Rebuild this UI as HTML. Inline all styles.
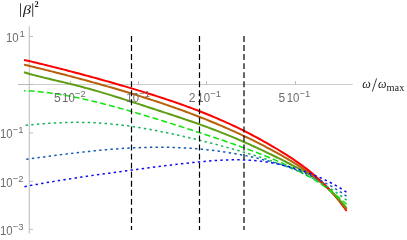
<!DOCTYPE html>
<html><head><meta charset="utf-8">
<style>
html,body{margin:0;padding:0;background:#fff;}
body{width:407px;height:240px;overflow:hidden;font-family:"Liberation Sans",sans-serif;}
svg{display:block;will-change:transform}
.t{font-family:"Liberation Sans",sans-serif;font-size:12px;fill:#6c6c6c}
.s{font-family:"Liberation Sans",sans-serif;font-size:9.7px;fill:#6c6c6c}
.m{font-family:"Liberation Serif",serif;fill:#1a1a1a}
</style></head><body>
<svg width="407" height="240" viewBox="0 0 407 240">
<rect width="407" height="240" fill="#fff"/>
<!-- axes -->
<g stroke="#b4b4b4" stroke-width="0.9" fill="none">
<line x1="29.35" y1="26.2" x2="29.35" y2="233.5" stroke-width="1.3" stroke="#cacaca"/>
<line x1="18" y1="84.5" x2="352.7" y2="84.5" stroke="#cdcdcd" stroke-width="1"/>
<line x1="18" y1="84.5" x2="33" y2="84.5" stroke="#b8b8b8" stroke-width="1"/>
<line x1="29.5" y1="36.4" x2="33" y2="36.4"/>
<line x1="29.5" y1="132.9" x2="33" y2="132.9"/>
<line x1="29.5" y1="181.4" x2="33" y2="181.4"/>
<line x1="29.5" y1="229.4" x2="33" y2="229.4"/>
<line x1="70.5" y1="84.5" x2="70.5" y2="81"/>
<line x1="138.5" y1="84.5" x2="138.5" y2="81"/>
<line x1="206.5" y1="84.5" x2="206.5" y2="81"/>
<line x1="295.5" y1="84.5" x2="295.5" y2="81"/>
</g>
<!-- curves -->
<g fill="none">
<path d="M24.00,72.26 L26.50,73.01 L29.00,73.73 L31.50,74.42 L34.00,75.10 L36.50,75.75 L39.00,76.39 L41.51,77.02 L44.01,77.63 L46.51,78.24 L49.01,78.84 L51.51,79.43 L54.01,80.02 L56.51,80.61 L59.01,81.20 L61.51,81.80 L64.01,82.39 L66.51,82.99 L69.01,83.60 L71.51,84.22 L74.02,84.84 L76.52,85.47 L79.02,86.11 L81.52,86.76 L84.02,87.42 L86.52,88.10 L89.02,88.78 L91.52,89.47 L94.02,90.18 L96.52,90.90 L99.02,91.62 L101.52,92.36 L104.02,93.11 L106.53,93.86 L109.03,94.63 L111.53,95.40 L114.03,96.17 L116.53,96.96 L119.03,97.75 L121.53,98.54 L124.03,99.34 L126.53,100.14 L129.03,100.94 L131.53,101.75 L134.03,102.55 L136.53,103.36 L139.04,104.17 L141.54,104.99 L144.04,105.80 L146.54,106.61 L149.04,107.43 L151.54,108.25 L154.04,109.06 L156.54,109.88 L159.04,110.70 L161.54,111.52 L164.04,112.34 L166.54,113.16 L169.04,113.99 L171.55,114.81 L174.05,115.64 L176.55,116.47 L179.05,117.31 L181.55,118.15 L184.05,118.99 L186.55,119.84 L189.05,120.69 L191.55,121.55 L194.05,122.42 L196.55,123.30 L199.05,124.18 L201.56,125.08 L204.06,125.98 L206.56,126.89 L209.06,127.82 L211.56,128.75 L214.06,129.70 L216.56,130.65 L219.06,131.62 L221.56,132.60 L224.06,133.59 L226.56,134.60 L229.06,135.61 L231.56,136.64 L234.07,137.68 L236.57,138.74 L239.07,139.81 L241.57,140.89 L244.07,141.98 L246.57,143.08 L249.07,144.20 L251.57,145.33 L254.07,146.47 L256.57,147.63 L259.07,148.79 L261.57,149.97 L264.07,151.15 L266.58,152.35 L269.08,153.56 L271.58,154.77 L274.08,156.00 L276.58,157.23 L279.08,158.47 L281.58,159.72 L284.08,160.98 L286.58,162.24 L289.08,163.50 L291.58,164.78 L294.08,166.05 L296.58,167.35 L299.09,168.65 L301.59,169.99 L304.09,171.35 L306.59,172.77 L309.09,174.24 L311.59,175.78 L314.09,177.41 L316.59,179.13 L319.09,180.95 L321.59,182.88 L324.09,184.92 L326.59,187.07 L329.09,189.34 L330.00,190.20" stroke="#5f9e14" stroke-width="2.0"/>
<path d="M24.00,64.63 L26.50,65.23 L29.00,65.83 L31.50,66.44 L34.00,67.05 L36.50,67.66 L39.00,68.27 L41.51,68.89 L44.01,69.51 L46.51,70.14 L49.01,70.76 L51.51,71.39 L54.01,72.03 L56.51,72.66 L59.01,73.30 L61.51,73.94 L64.01,74.59 L66.51,75.24 L69.01,75.89 L71.51,76.55 L74.02,77.21 L76.52,77.87 L79.02,78.54 L81.52,79.21 L84.02,79.89 L86.52,80.57 L89.02,81.25 L91.52,81.93 L94.02,82.62 L96.52,83.32 L99.02,84.02 L101.52,84.72 L104.02,85.43 L106.53,86.14 L109.03,86.86 L111.53,87.58 L114.03,88.30 L116.53,89.04 L119.03,89.77 L121.53,90.51 L124.03,91.26 L126.53,92.01 L129.03,92.77 L131.53,93.53 L134.03,94.30 L136.53,95.07 L139.04,95.85 L141.54,96.64 L144.04,97.43 L146.54,98.23 L149.04,99.03 L151.54,99.84 L154.04,100.66 L156.54,101.49 L159.04,102.32 L161.54,103.16 L164.04,104.01 L166.54,104.86 L169.04,105.72 L171.55,106.59 L174.05,107.47 L176.55,108.35 L179.05,109.25 L181.55,110.15 L184.05,111.06 L186.55,111.98 L189.05,112.91 L191.55,113.85 L194.05,114.80 L196.55,115.76 L199.05,116.73 L201.56,117.70 L204.06,118.69 L206.56,119.69 L209.06,120.70 L211.56,121.72 L214.06,122.75 L216.56,123.79 L219.06,124.85 L221.56,125.91 L224.06,126.99 L226.56,128.08 L229.06,129.18 L231.56,130.29 L234.07,131.42 L236.57,132.55 L239.07,133.71 L241.57,134.87 L244.07,136.05 L246.57,137.24 L249.07,138.44 L251.57,139.66 L254.07,140.90 L256.57,142.14 L259.07,143.41 L261.57,144.68 L264.07,145.97 L266.58,147.28 L269.08,148.60 L271.58,149.94 L274.08,151.30 L276.58,152.67 L279.08,154.06 L281.58,155.47 L284.08,156.90 L286.58,158.35 L289.08,159.83 L291.58,161.34 L294.08,162.87 L296.58,164.44 L299.09,166.04 L301.59,167.69 L304.09,169.37 L306.59,171.10 L309.09,172.89 L311.59,174.72 L314.09,176.62 L316.59,178.58 L319.09,180.61 L321.59,182.71 L324.09,184.90 L326.59,187.16 L329.09,189.53 L330.00,190.42" stroke="#b8600a" stroke-width="2.0"/>
<path d="M24.00,59.94 L26.50,60.50 L29.00,61.07 L31.50,61.65 L34.00,62.23 L36.50,62.82 L39.00,63.42 L41.51,64.02 L44.01,64.63 L46.51,65.24 L49.01,65.85 L51.51,66.47 L54.01,67.10 L56.51,67.73 L59.01,68.36 L61.51,69.00 L64.01,69.65 L66.51,70.29 L69.01,70.94 L71.51,71.60 L74.02,72.26 L76.52,72.92 L79.02,73.58 L81.52,74.25 L84.02,74.92 L86.52,75.60 L89.02,76.28 L91.52,76.96 L94.02,77.65 L96.52,78.33 L99.02,79.03 L101.52,79.72 L104.02,80.42 L106.53,81.12 L109.03,81.83 L111.53,82.54 L114.03,83.25 L116.53,83.97 L119.03,84.69 L121.53,85.42 L124.03,86.15 L126.53,86.88 L129.03,87.62 L131.53,88.36 L134.03,89.11 L136.53,89.86 L139.04,90.62 L141.54,91.38 L144.04,92.15 L146.54,92.93 L149.04,93.71 L151.54,94.49 L154.04,95.28 L156.54,96.08 L159.04,96.89 L161.54,97.70 L164.04,98.53 L166.54,99.36 L169.04,100.19 L171.55,101.04 L174.05,101.89 L176.55,102.76 L179.05,103.63 L181.55,104.52 L184.05,105.41 L186.55,106.32 L189.05,107.23 L191.55,108.16 L194.05,109.10 L196.55,110.05 L199.05,111.02 L201.56,111.99 L204.06,112.98 L206.56,113.99 L209.06,115.01 L211.56,116.04 L214.06,117.09 L216.56,118.15 L219.06,119.23 L221.56,120.32 L224.06,121.43 L226.56,122.56 L229.06,123.70 L231.56,124.86 L234.07,126.03 L236.57,127.22 L239.07,128.43 L241.57,129.66 L244.07,130.90 L246.57,132.17 L249.07,133.45 L251.57,134.75 L254.07,136.06 L256.57,137.40 L259.07,138.75 L261.57,140.12 L264.07,141.51 L266.58,142.92 L269.08,144.35 L271.58,145.80 L274.08,147.27 L276.58,148.75 L279.08,150.26 L281.58,151.80 L284.08,153.35 L286.58,154.94 L289.08,156.55 L291.58,158.20 L294.08,159.88 L296.58,161.59 L299.09,163.35 L301.59,165.15 L304.09,167.00 L306.59,168.91 L309.09,170.87 L311.59,172.90 L314.09,174.99 L316.59,177.16 L319.09,179.40 L321.59,181.73 L324.09,184.15 L326.59,186.67 L329.09,189.28 L330.00,190.27" stroke="#ff0000" stroke-width="2.0"/>
<path d="M329.70,189.94 L331.60,192.00 L334.10,194.84 L336.60,197.80 L339.10,200.89 L341.60,204.11 L344.10,207.47 L346.60,210.98" stroke="#ff0000" stroke-width="2.0"/>
<path d="M329.70,190.12 L331.60,191.98 L334.10,194.55 L336.60,197.22 L339.10,200.01 L341.60,202.93 L344.10,205.98 L346.60,209.17" stroke="#b8600a" stroke-width="2.0"/>
<path d="M329.70,189.91 L331.60,191.72 L334.10,194.21 L336.60,196.80 L339.10,199.49 L341.60,202.28 L344.10,205.14 L346.60,208.07" stroke="#5f9e14" stroke-width="2.0"/>
<path d="M24.00,90.68 L26.50,90.79 L29.00,90.92 L31.50,91.08 L34.00,91.26 L36.50,91.47 L39.00,91.70 L41.51,91.95 L44.01,92.22 L46.51,92.52 L49.01,92.84 L51.51,93.18 L54.01,93.53 L56.51,93.91 L59.01,94.30 L61.51,94.72 L64.01,95.15 L66.51,95.59 L69.01,96.05 L71.51,96.53 L74.02,97.03 L76.52,97.53 L79.02,98.06 L81.52,98.59 L84.02,99.14 L86.52,99.70 L89.02,100.27 L91.52,100.86 L94.02,101.46 L96.52,102.06 L99.02,102.68 L101.52,103.31 L104.02,103.95 L106.53,104.59 L109.03,105.25 L111.53,105.91 L114.03,106.59 L116.53,107.27 L119.03,107.95 L121.53,108.65 L124.03,109.35 L126.53,110.06 L129.03,110.77 L131.53,111.49 L134.03,112.22 L136.53,112.95 L139.04,113.69 L141.54,114.43 L144.04,115.18 L146.54,115.93 L149.04,116.69 L151.54,117.45 L154.04,118.21 L156.54,118.98 L159.04,119.75 L161.54,120.52 L164.04,121.30 L166.54,122.08 L169.04,122.87 L171.55,123.65 L174.05,124.44 L176.55,125.24 L179.05,126.03 L181.55,126.83 L184.05,127.63 L186.55,128.43 L189.05,129.24 L191.55,130.05 L194.05,130.86 L196.55,131.67 L199.05,132.49 L201.56,133.31 L204.06,134.13 L206.56,134.95 L209.06,135.78 L211.56,136.61 L214.06,137.45 L216.56,138.28 L219.06,139.13 L221.56,139.97 L224.06,140.82 L226.56,141.68 L229.06,142.54 L231.56,143.41 L234.07,144.28 L236.57,145.16 L239.07,146.05 L241.57,146.94 L244.07,147.84 L246.57,148.76 L249.07,149.68 L251.57,150.61 L254.07,151.55 L256.57,152.50 L259.07,153.46 L261.57,154.44 L264.07,155.43 L266.58,156.43 L269.08,157.45 L271.58,158.48 L274.08,159.53 L276.58,160.60 L279.08,161.69 L281.58,162.79 L284.08,163.92 L286.58,165.07 L289.08,166.24 L291.58,167.44 L294.08,168.67 L296.58,169.92 L299.09,171.21 L301.59,172.53 L304.09,173.88 L306.59,175.26 L309.09,176.69 L311.59,178.16 L314.09,179.67 L316.59,181.22 L319.09,182.82 L321.59,184.47 L324.09,186.18 L326.59,187.94 L329.09,189.76 L331.60,191.64 L334.10,193.58 L336.60,195.59 L339.10,197.68 L341.60,199.83 L344.10,202.06 L346.60,204.37" stroke="#10e510" stroke-width="1.5" stroke-dasharray="6.05 3.03" stroke-dashoffset="4.45"/>
<path d="M24.00,125.51 L26.50,125.24 L29.00,124.99 L31.50,124.74 L34.00,124.51 L36.50,124.28 L39.00,124.06 L41.51,123.85 L44.01,123.66 L46.51,123.47 L49.01,123.30 L51.51,123.14 L54.01,123.00 L56.51,122.87 L59.01,122.75 L61.51,122.65 L64.01,122.56 L66.51,122.48 L69.01,122.43 L71.51,122.39 L74.02,122.36 L76.52,122.35 L79.02,122.36 L81.52,122.39 L84.02,122.43 L86.52,122.49 L89.02,122.57 L91.52,122.66 L94.02,122.77 L96.52,122.90 L99.02,123.04 L101.52,123.21 L104.02,123.39 L106.53,123.58 L109.03,123.80 L111.53,124.02 L114.03,124.27 L116.53,124.53 L119.03,124.81 L121.53,125.11 L124.03,125.42 L126.53,125.74 L129.03,126.08 L131.53,126.43 L134.03,126.80 L136.53,127.18 L139.04,127.57 L141.54,127.98 L144.04,128.40 L146.54,128.83 L149.04,129.27 L151.54,129.72 L154.04,130.19 L156.54,130.66 L159.04,131.15 L161.54,131.64 L164.04,132.14 L166.54,132.66 L169.04,133.18 L171.55,133.71 L174.05,134.25 L176.55,134.80 L179.05,135.35 L181.55,135.92 L184.05,136.49 L186.55,137.07 L189.05,137.65 L191.55,138.25 L194.05,138.85 L196.55,139.45 L199.05,140.07 L201.56,140.69 L204.06,141.32 L206.56,141.95 L209.06,142.59 L211.56,143.24 L214.06,143.90 L216.56,144.56 L219.06,145.22 L221.56,145.90 L224.06,146.58 L226.56,147.26 L229.06,147.96 L231.56,148.66 L234.07,149.36 L236.57,150.08 L239.07,150.80 L241.57,151.53 L244.07,152.26 L246.57,153.01 L249.07,153.76 L251.57,154.52 L254.07,155.29 L256.57,156.08 L259.07,156.87 L261.57,157.67 L264.07,158.49 L266.58,159.32 L269.08,160.16 L271.58,161.02 L274.08,161.89 L276.58,162.78 L279.08,163.69 L281.58,164.62 L284.08,165.56 L286.58,166.53 L289.08,167.52 L291.58,168.54 L294.08,169.58 L296.58,170.65 L299.09,171.74 L301.59,172.86 L304.09,174.02 L306.59,175.21 L309.09,176.43 L311.59,177.69 L314.09,178.98 L316.59,180.32 L319.09,181.70 L321.59,183.12 L324.09,184.59 L326.59,186.10 L329.09,187.67 L331.60,189.28 L334.10,190.95 L336.60,192.68 L339.10,194.46 L341.60,196.31 L344.10,198.22 L346.60,200.19" stroke="#14b45a" stroke-width="1.5" stroke-dasharray="2.4 3.25" stroke-dashoffset="4.0"/>
<path d="M24.00,159.53 L26.50,159.20 L29.00,158.87 L31.50,158.55 L34.00,158.22 L36.50,157.89 L39.00,157.55 L41.51,157.22 L44.01,156.89 L46.51,156.56 L49.01,156.24 L51.51,155.91 L54.01,155.58 L56.51,155.26 L59.01,154.94 L61.51,154.62 L64.01,154.31 L66.51,153.99 L69.01,153.68 L71.51,153.38 L74.02,153.08 L76.52,152.78 L79.02,152.49 L81.52,152.21 L84.02,151.92 L86.52,151.65 L89.02,151.38 L91.52,151.12 L94.02,150.86 L96.52,150.61 L99.02,150.37 L101.52,150.13 L104.02,149.90 L106.53,149.68 L109.03,149.47 L111.53,149.26 L114.03,149.07 L116.53,148.88 L119.03,148.70 L121.53,148.53 L124.03,148.37 L126.53,148.22 L129.03,148.08 L131.53,147.95 L134.03,147.83 L136.53,147.72 L139.04,147.63 L141.54,147.54 L144.04,147.46 L146.54,147.40 L149.04,147.34 L151.54,147.30 L154.04,147.27 L156.54,147.25 L159.04,147.24 L161.54,147.25 L164.04,147.27 L166.54,147.30 L169.04,147.35 L171.55,147.40 L174.05,147.48 L176.55,147.56 L179.05,147.66 L181.55,147.77 L184.05,147.89 L186.55,148.03 L189.05,148.19 L191.55,148.36 L194.05,148.54 L196.55,148.74 L199.05,148.95 L201.56,149.17 L204.06,149.41 L206.56,149.67 L209.06,149.94 L211.56,150.23 L214.06,150.53 L216.56,150.85 L219.06,151.18 L221.56,151.53 L224.06,151.89 L226.56,152.27 L229.06,152.67 L231.56,153.08 L234.07,153.51 L236.57,153.95 L239.07,154.41 L241.57,154.89 L244.07,155.38 L246.57,155.89 L249.07,156.42 L251.57,156.96 L254.07,157.52 L256.57,158.09 L259.07,158.68 L261.57,159.29 L264.07,159.92 L266.58,160.57 L269.08,161.23 L271.58,161.92 L274.08,162.62 L276.58,163.34 L279.08,164.09 L281.58,164.86 L284.08,165.64 L286.58,166.46 L289.08,167.30 L291.58,168.16 L294.08,169.05 L296.58,169.96 L299.09,170.91 L301.59,171.89 L304.09,172.89 L306.59,173.93 L309.09,175.00 L311.59,176.11 L314.09,177.26 L316.59,178.44 L319.09,179.66 L321.59,180.93 L324.09,182.23 L326.59,183.58 L329.09,184.98 L331.60,186.43 L334.10,187.93 L336.60,189.48 L339.10,191.08 L341.60,192.74 L344.10,194.46 L346.60,196.24" stroke="#125ab2" stroke-width="1.5" stroke-dasharray="2.4 3.25" stroke-dashoffset="3.4"/>
<path d="M24.00,186.80 L26.50,186.31 L29.00,185.82 L31.50,185.34 L34.00,184.87 L36.50,184.41 L39.00,183.96 L41.51,183.51 L44.01,183.07 L46.51,182.64 L49.01,182.21 L51.51,181.79 L54.01,181.37 L56.51,180.96 L59.01,180.56 L61.51,180.16 L64.01,179.76 L66.51,179.37 L69.01,178.98 L71.51,178.60 L74.02,178.22 L76.52,177.84 L79.02,177.47 L81.52,177.10 L84.02,176.73 L86.52,176.36 L89.02,176.00 L91.52,175.63 L94.02,175.27 L96.52,174.92 L99.02,174.56 L101.52,174.21 L104.02,173.85 L106.53,173.50 L109.03,173.15 L111.53,172.80 L114.03,172.46 L116.53,172.11 L119.03,171.77 L121.53,171.43 L124.03,171.08 L126.53,170.74 L129.03,170.41 L131.53,170.07 L134.03,169.73 L136.53,169.40 L139.04,169.06 L141.54,168.73 L144.04,168.40 L146.54,168.08 L149.04,167.75 L151.54,167.43 L154.04,167.10 L156.54,166.78 L159.04,166.47 L161.54,166.15 L164.04,165.84 L166.54,165.53 L169.04,165.23 L171.55,164.93 L174.05,164.63 L176.55,164.34 L179.05,164.05 L181.55,163.76 L184.05,163.48 L186.55,163.21 L189.05,162.94 L191.55,162.67 L194.05,162.41 L196.55,162.16 L199.05,161.92 L201.56,161.68 L204.06,161.45 L206.56,161.23 L209.06,161.02 L211.56,160.83 L214.06,160.64 L216.56,160.47 L219.06,160.32 L221.56,160.18 L224.06,160.06 L226.56,159.96 L229.06,159.88 L231.56,159.82 L234.07,159.79 L236.57,159.78 L239.07,159.80 L241.57,159.85 L244.07,159.93 L246.57,160.03 L249.07,160.17 L251.57,160.34 L254.07,160.54 L256.57,160.77 L259.07,161.04 L261.57,161.34 L264.07,161.67 L266.58,162.03 L269.08,162.43 L271.58,162.85 L274.08,163.31 L276.58,163.80 L279.08,164.33 L281.58,164.88 L284.08,165.46 L286.58,166.08 L289.08,166.73 L291.58,167.41 L294.08,168.13 L296.58,168.87 L299.09,169.65 L301.59,170.47 L304.09,171.31 L306.59,172.20 L309.09,173.12 L311.59,174.08 L314.09,175.07 L316.59,176.10 L319.09,177.18 L321.59,178.29 L324.09,179.45 L326.59,180.66 L329.09,181.91 L331.60,183.21 L334.10,184.57 L336.60,185.98 L339.10,187.44 L341.60,188.97 L344.10,190.56 L346.60,192.22" stroke="#0a0af5" stroke-width="1.5" stroke-dasharray="2.4 3.25" stroke-dashoffset="5.2"/>
</g>
<!-- tick labels -->
<text class="t" x="6.00" y="42.3" textLength="12.7" lengthAdjust="spacingAndGlyphs">10</text><text class="s" x="19.60" y="37.10">1</text>
<text class="t" x="-0.10" y="138.2" textLength="12.7" lengthAdjust="spacingAndGlyphs">10</text><text class="s" x="12.80" y="133.20" textLength="10.8" lengthAdjust="spacingAndGlyphs">&#8722;1</text>
<text class="t" x="-0.10" y="186.5" textLength="12.7" lengthAdjust="spacingAndGlyphs">10</text><text class="s" x="12.80" y="181.50" textLength="10.8" lengthAdjust="spacingAndGlyphs">&#8722;2</text>
<text class="t" x="-0.10" y="234.5" textLength="12.7" lengthAdjust="spacingAndGlyphs">10</text><text class="s" x="12.80" y="229.50" textLength="10.8" lengthAdjust="spacingAndGlyphs">&#8722;3</text>
<text class="t" x="54.0" y="102">5</text><text class="t" x="62.10" y="102" textLength="12.7" lengthAdjust="spacingAndGlyphs">10</text><text class="s" x="75.00" y="97.00" textLength="10.8" lengthAdjust="spacingAndGlyphs">&#8722;2</text>
<text class="t" x="126.30" y="102" textLength="12.7" lengthAdjust="spacingAndGlyphs">10</text><text class="s" x="139.20" y="97.00" textLength="10.8" lengthAdjust="spacingAndGlyphs">&#8722;1</text>
<text class="t" x="188.7" y="102">2</text><text class="t" x="197.30" y="102" textLength="12.7" lengthAdjust="spacingAndGlyphs">10</text><text class="s" x="210.20" y="97.00" textLength="10.8" lengthAdjust="spacingAndGlyphs">&#8722;1</text>
<text class="t" x="278.6" y="102">5</text><text class="t" x="286.70" y="102" textLength="12.7" lengthAdjust="spacingAndGlyphs">10</text><text class="s" x="299.60" y="97.00" textLength="10.8" lengthAdjust="spacingAndGlyphs">&#8722;1</text>
<!-- axis labels -->
<g stroke="#2a2a2a" stroke-width="0.9" fill="none">
<line x1="20.5" y1="3.3" x2="20.5" y2="16.8"/>
<line x1="32.7" y1="3.3" x2="32.7" y2="16.8"/>
<line x1="372.3" y1="91.6" x2="376.6" y2="78.4"/>
</g>
<text class="m" x="23.0" y="13.6" font-size="12.3" font-style="italic" textLength="8.0" lengthAdjust="spacingAndGlyphs" fill="#4c4c4c">&#946;</text>
<text class="m" x="34.6" y="6.7" font-size="8.4" font-weight="bold">2</text>
<text class="m" x="362.3" y="88.3" font-size="12" font-style="italic" fill="#222">&#969;</text>
<text class="m" x="378" y="88.3" font-size="12" font-style="italic" fill="#222">&#969;</text>
<text class="m" x="386.6" y="90.5" font-size="10.3">max</text>
<!-- vertical dashed lines -->
<g fill="none" stroke="#000" stroke-width="1.2" stroke-dasharray="5.9 3.15">
<line x1="131.5" y1="36" x2="131.5" y2="230"/>
<line x1="199.5" y1="36" x2="199.5" y2="230"/>
<line x1="244" y1="36" x2="244" y2="230"/>
</g>
</svg>
</body></html>
